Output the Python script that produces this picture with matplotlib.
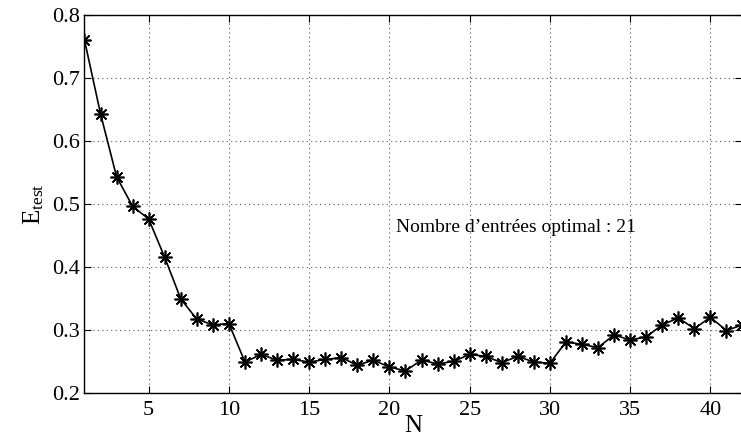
import matplotlib
matplotlib.use('Agg')
import matplotlib.pyplot as plt

plt.rcParams['font.family'] = 'Liberation Serif'
plt.rcParams['mathtext.fontset'] = 'custom'
plt.rcParams['mathtext.rm'] = 'Liberation Serif'
plt.rcParams['mathtext.it'] = 'Liberation Serif:italic'

# Nombre d'entrées
N = list(range(1, 43))
# Erreur de test
E_test = [0.760, 0.643, 0.543, 0.496, 0.476, 0.415, 0.349, 0.317, 0.308, 0.310,
          0.249, 0.261, 0.252, 0.253, 0.249, 0.253, 0.256, 0.244, 0.252, 0.241,
          0.235, 0.252, 0.246, 0.250, 0.261, 0.258, 0.248, 0.258, 0.249, 0.247,
          0.281, 0.277, 0.272, 0.292, 0.284, 0.289, 0.308, 0.319, 0.302, 0.320,
          0.299, 0.308]
xticks = [5, 10, 15, 20, 25, 30, 35, 40]
yticks = [0.2, 0.3, 0.4, 0.5, 0.6, 0.7, 0.8]

fig = plt.figure(figsize=(7.41, 4.48), dpi=100)
ax = fig.add_axes([0.114, 0.123, 0.888, 0.844])
# asterisque façon matlab
ax.plot(N, E_test, color='black', linewidth=1.2, marker=(8, 2, 0), markersize=10,
        markeredgewidth=1.2)
ax.set_xlim(1, 42)
ax.set_ylim(0.2, 0.8)
ax.set_xticks(xticks)
ax.set_yticks(yticks)
ax.tick_params(direction='in', top=True, right=True, labelsize=16, length=5)
ax.tick_params(axis='x', pad=6)
ax.grid(True, linestyle=(0, (1, 3)), color='#555555', linewidth=0.8)
ax.set_xlabel('N', fontsize=18, labelpad=-4)
ax.set_ylabel(r'$\mathrm{E}_{\mathrm{test}}$', fontsize=18, labelpad=4)
ax.text(20.4, 0.462, 'Nombre d’entrées optimal : 21', fontsize=14, va='center')
for s in ax.spines.values():
    s.set_linewidth(1.0)

plt.savefig('out.png', dpi=100)
